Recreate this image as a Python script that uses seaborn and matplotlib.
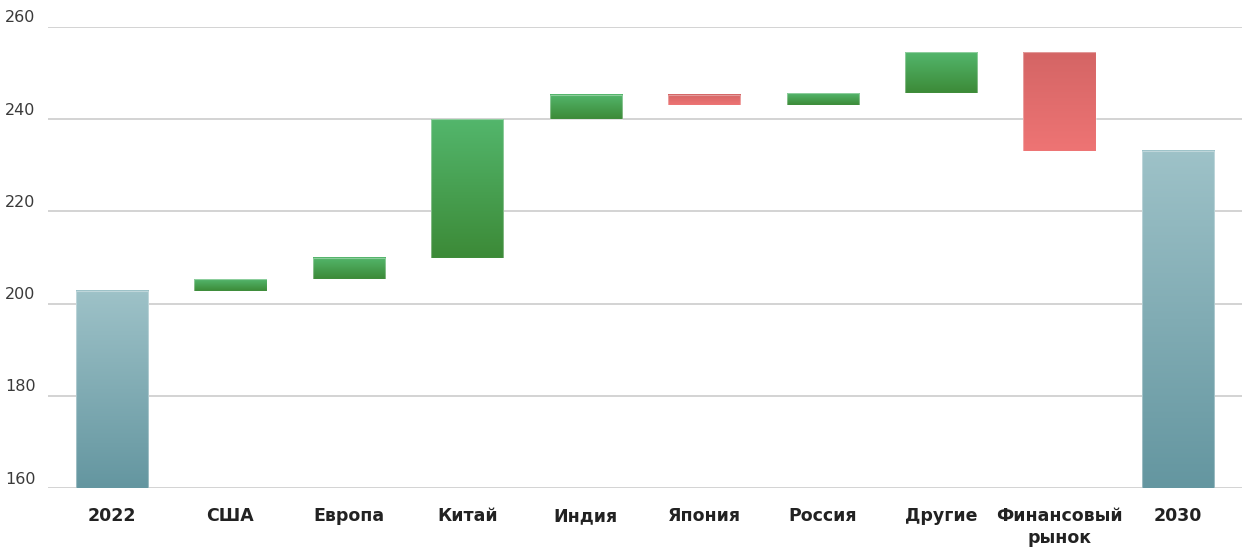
import numpy as np
import pandas as pd
import matplotlib
matplotlib.use("Agg")
import matplotlib.pyplot as plt
import matplotlib.colors as mcolors
from matplotlib.transforms import ScaledTranslation
import seaborn as sns

# ---- data ----
categories = ["2022", "США", "Европа", "Китай", "Индия", "Япония",
              "Россия", "Другие", "Финансовый\nрынок", "2030"]
start_value = 202.8
deltas = [2.5, 4.6, 30.1, 5.3, -2.2, 2.6, 8.8, -21.3]
y_ticks = [160, 180, 200, 220, 240, 260]

# ---- derived waterfall table ----
cum = [start_value]
for d in deltas:
    cum.append(cum[-1] + d)
end_value = cum[-1]
heights = [start_value] + deltas + [end_value]
bottoms = [0.0] + cum[:-1] + [0.0]
kinds = ["total"] + ["up" if d >= 0 else "down" for d in deltas] + ["total"]
df = pd.DataFrame({"cat": categories, "height": heights})

grad = {
    "total": ("#9EC2C8", "#6496A0"),
    "up": ("#53B66C", "#3C8A37"),
    "down": ("#D46565", "#EE7474"),
}

sns.set_theme(style="white")
plt.rcParams["font.family"] = ["DejaVu Sans"]

fig = plt.figure(figsize=(12.42, 5.48), dpi=100)
ax = fig.add_axes([48 / 1242, 1 - 488 / 548, 1 - 48 / 1242, (488 - 27) / 548])

sns.barplot(data=df, x="cat", y="height", order=categories, ax=ax,
            width=0.61, bottom=bottoms, color="white", saturation=1,
            edgecolor=(1, 1, 1, 0.35), linewidth=0.8, zorder=3)

# gradient fills clipped to each bar
for patch, kind in zip(ax.patches, kinds):
    x0 = patch.get_x()
    w = patch.get_width()
    y0 = patch.get_y()
    h = patch.get_height()
    lo, hi = min(y0, y0 + h), max(y0, y0 + h)
    lo_vis = max(lo, 160)
    c_top = np.array(mcolors.to_rgb(grad[kind][0]))
    c_bot = np.array(mcolors.to_rgb(grad[kind][1]))
    t = np.linspace(0, 1, 256)[:, None]
    img = (c_top[None, :] * (1 - t) + c_bot[None, :] * t)[:, None, :]
    patch.set_facecolor("none")
    ax.imshow(img, extent=[x0, x0 + w, lo_vis, hi], origin="upper",
              aspect="auto", zorder=2, interpolation="bilinear")

ax.set_xlim(-0.54, len(categories) - 1 + 0.54)
ax.set_ylim(160, 260)
ax.set_yticks(y_ticks)
ax.set_yticklabels([str(v) for v in y_ticks])

ax.grid(axis="y", color="#cccccc", linewidth=1.2, zorder=0)
ax.grid(axis="x", visible=False)
ax.set_axisbelow(True)
for s in ax.spines.values():
    s.set_visible(False)

ax.set_xlabel("")
ax.set_ylabel("")
ax.tick_params(axis="x", length=0, pad=14, labelsize=12.5, labelcolor="#222222")
ax.tick_params(axis="y", length=0, pad=0, labelsize=11.5, labelcolor="#3a3a3a")
for lab in ax.get_xticklabels():
    lab.set_fontweight("bold")
    lab.set_linespacing(1.25)
    lab.set_verticalalignment("top")
off = ScaledTranslation(-43 / 100, 9 / 100, fig.dpi_scale_trans)
for lab in ax.get_yticklabels():
    lab.set_horizontalalignment("left")
    lab.set_verticalalignment("center")
    lab.set_transform(lab.get_transform() + off)

fig.savefig("out.png", dpi=100, facecolor="white")
